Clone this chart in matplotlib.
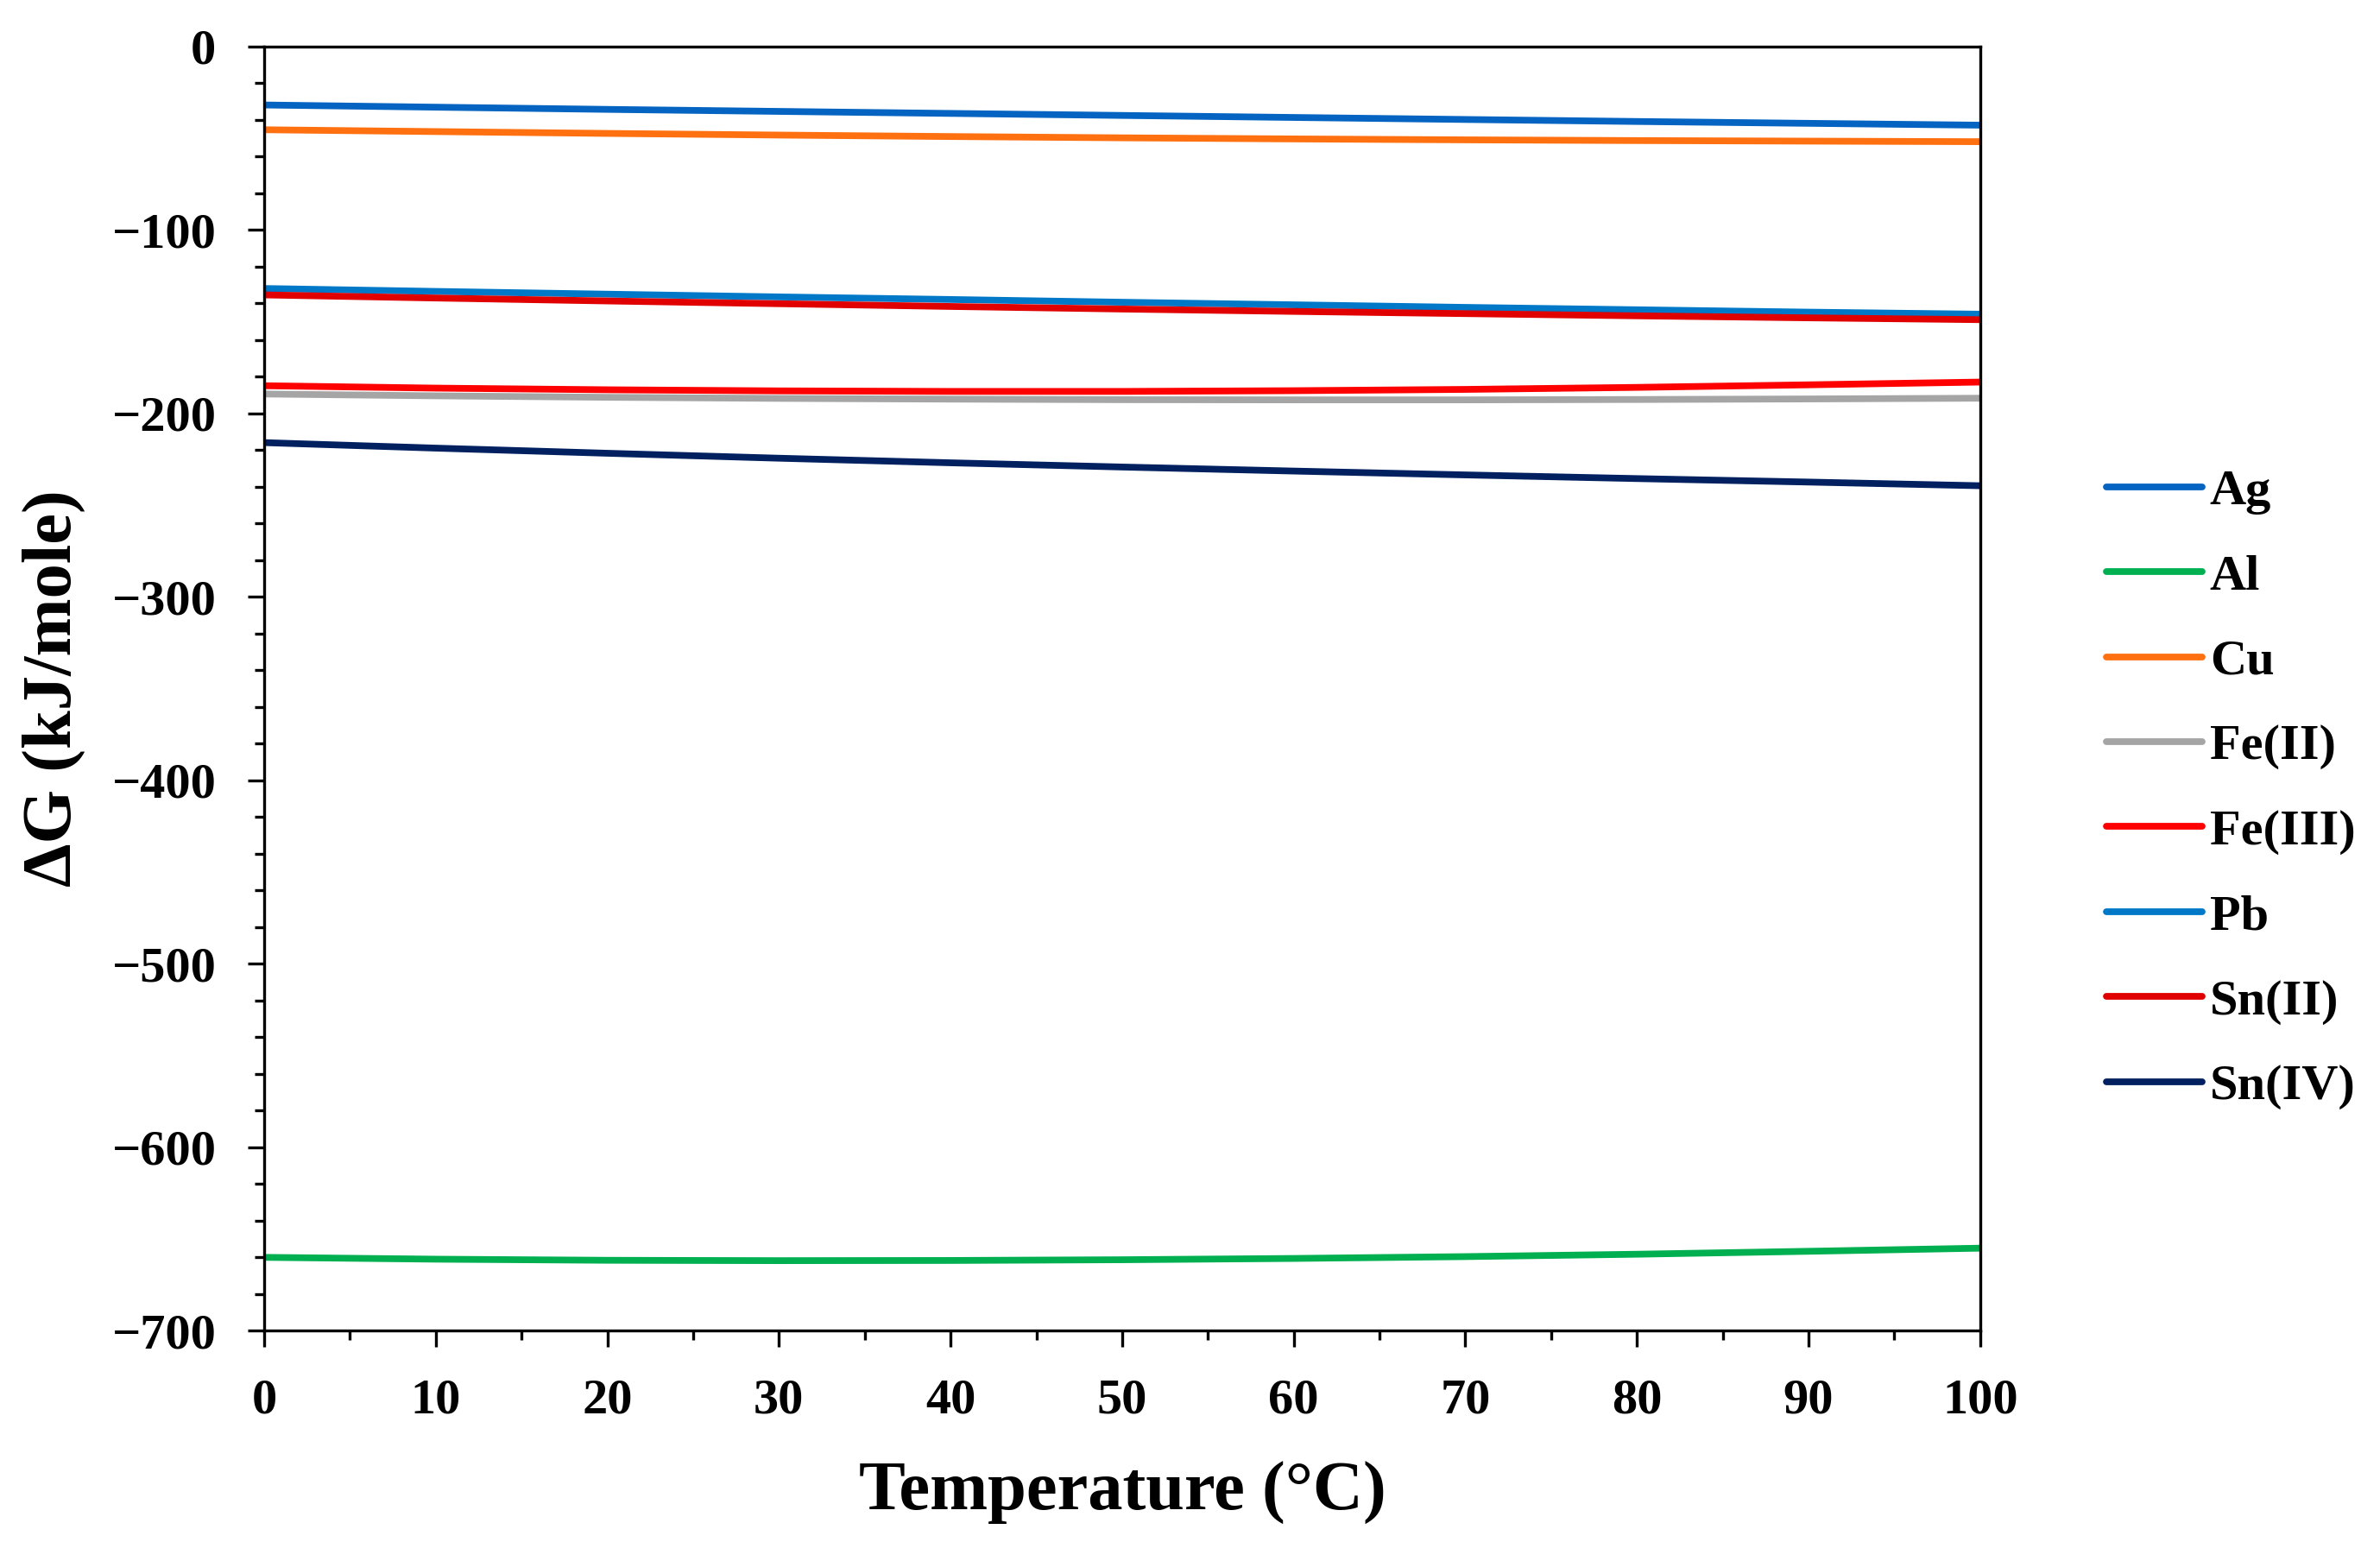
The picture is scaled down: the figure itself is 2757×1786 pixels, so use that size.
import numpy as np
import matplotlib
matplotlib.use("Agg")
import matplotlib.pyplot as plt
from matplotlib.ticker import MultipleLocator

# temperature (°C)
temp = [0, 10, 20, 30, 40, 50, 60, 70, 80, 90, 100]

# Gibbs free energy (kJ/mole)
ag = [-32, -33.2, -34.4, -35.5, -36.6, -37.7, -38.8, -39.9, -41, -42, -43]
al = [-660, -661, -661.6, -661.8, -661.7, -661.3, -660.6, -659.6, -658.3, -656.7, -655]
cu = [-45.5, -46.5, -47.5, -48.4, -49.2, -49.9, -50.5, -51, -51.4, -51.7, -52]
fe2 = [-189.5, -190.5, -191.3, -191.9, -192.3, -192.6, -192.7, -192.7, -192.5, -192.2, -191.8]
fe3 = [-185, -186.3, -187.2, -187.8, -188.1, -188.1, -187.7, -187, -185.9, -184.5, -183]
pb = [-132, -133.6, -135.1, -136.6, -138, -139.5, -140.9, -142.3, -143.6, -144.9, -146]
sn2 = [-135.5, -137.2, -138.8, -140.3, -141.8, -143.2, -144.5, -145.7, -146.9, -148, -149]
sn4 = [-216, -219, -221.8, -224.5, -227, -229.3, -231.5, -233.6, -235.6, -237.5, -239.5]

labels = ["Ag", "Al", "Cu", "Fe(II)", "Fe(III)", "Pb", "Sn(II)", "Sn(IV)"]
series = [ag, al, cu, fe2, fe3, pb, sn2, sn4]
colors = ["#0563C1", "#00B050", "#FF7010", "#A5A5A5", "#FF0000", "#0078C8", "#E00000", "#002060"]

plt.rcParams['font.family'] = ['Liberation Serif', 'DejaVu Serif']
plt.rcParams['font.weight'] = 'bold'

fig = plt.figure(figsize=(13.785, 8.93), dpi=200)
ax = fig.add_axes([0.111, 0.137, 0.721, 0.833])

for vals, lab, col in zip(series, labels, colors):
    ax.plot(temp, vals, color=col, linewidth=2.8, label=lab, solid_capstyle='round')

ax.set_xlim(0, 100)
ax.set_ylim(-700, 0)
ax.xaxis.set_major_locator(MultipleLocator(10))
ax.xaxis.set_minor_locator(MultipleLocator(5))
ax.yaxis.set_major_locator(MultipleLocator(100))
ax.yaxis.set_minor_locator(MultipleLocator(20))
ax.tick_params(which='major', direction='out', length=7, width=1.2, labelsize=21, pad=13)
ax.tick_params(which='minor', direction='out', length=4, width=1.2)
for lbl in ax.get_xticklabels() + ax.get_yticklabels():
    lbl.set_fontweight('bold')
for sp in ax.spines.values():
    sp.set_linewidth(1.2)

ax.set_xlabel("Temperature (°C)", fontsize=29, fontweight='bold', labelpad=16)
ax.set_ylabel("ΔG (kJ/mole)", fontsize=29, fontweight='bold', labelpad=11)

leg = fig.legend(loc='center left', bbox_to_anchor=(0.866, 0.488), frameon=False,
                 prop={'size': 21, 'weight': 'bold'}, handlelength=1.9,
                 handletextpad=0.15, labelspacing=0.78)

fig.savefig("out.png", dpi=200)
